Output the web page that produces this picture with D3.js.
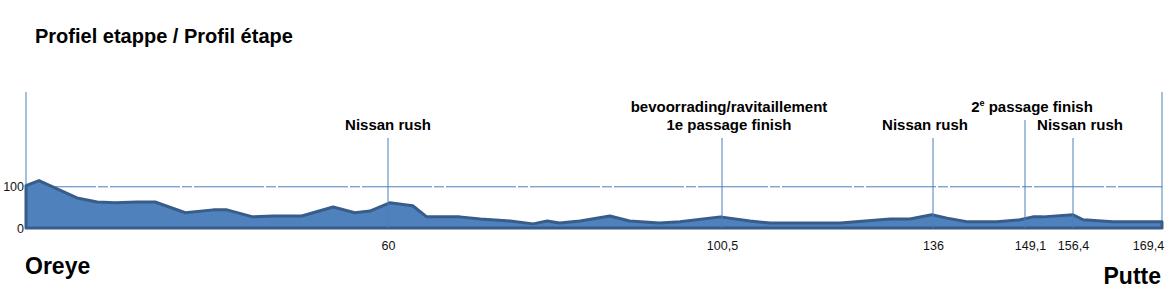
<!DOCTYPE html>
<html>
<head>
<meta charset="utf-8">
<script src="https://cdn.jsdelivr.net/npm/d3@7"></script>
<style>
  body { margin: 0; background: #fff; }
  svg { font-family: "Liberation Sans", Arial, sans-serif; }
</style>
</head>
<body>
<div id="main"></div>
<script>
// profile: km and altitude (m)
const profileKm = [0, 2.15, 8.45, 11.8, 14.75, 18.4, 21.4, 26.4, 31.0, 33.3, 37.6, 40.9, 45.7, 50.9, 54.5, 57.0,
    60.2, 63.0, 64.7, 68.7, 71.2, 74.8, 77.6, 79.3, 80.8, 83.3, 86.9, 89.3, 92.9, 95.4, 100.3, 105.2, 108.6,
    120.4, 128.8, 132.1, 135.8, 138.0, 140.8, 145.1, 148.4, 150.3, 151.8, 156.4, 157.9, 162.2, 169.4]
const profileAlt = [103, 115, 73, 63, 61, 63, 63, 37, 44, 44, 27, 29, 29, 51, 37, 41,
    61, 54, 27, 27, 22, 17, 10, 17, 12, 17, 29, 17, 12, 15, 27, 17, 12,
    12, 22, 22, 32, 24, 15, 15, 20, 27, 27, 32, 20, 15, 15]

const kmTicks = [60, 100.5, 136, 149.1, 156.4, 169.4]
const altTicks = [0, 100]

const annotKm = [60, 100.5, 136, 149.1, 156.4]
const annotText = [
    ["Nissan rush"],
    ["bevoorrading/ravitaillement", "1e passage finish"],
    ["Nissan rush"],
    ["2|e| passage finish"],
    ["Nissan rush"]
]

const title = "Profiel etappe / Profil étape"
const startTown = "Oreye"
const finishTown = "Putte"

const ctx = {
    w: 1174,
    h: 302,
    line: "#4a7ebb",
    fill: "#4f81bd",
    edge: "#385d8a"
}

function createViz() {
    let svg = d3.select("#main").append("svg")
        .attr("width", ctx.w)
        .attr("height", ctx.h)

    // distance scale of the original is not linear, each marked km is pinned
    let x = d3.scaleLinear()
        .domain([0, 60, 100.5, 136, 149.1, 156.4, 169.4])
        .range([26, 388, 722, 933, 1025, 1073, 1162])
    let y = d3.scaleLinear().domain([0, 330]).range([228, 92])

    let data = profileKm.map((k, i) => ({ km: k, alt: profileAlt[i] }))

    svg.append("text")
        .attr("x", 35).attr("y", 43)
        .attr("font-size", 20).attr("font-weight", "bold")
        .text(title)

    // reference line at 100 m
    svg.append("line")
        .attr("x1", x(0)).attr("x2", x(169.4))
        .attr("y1", y(100)).attr("y2", y(100))
        .attr("stroke", ctx.line)
        .attr("stroke-dasharray", "70,2,10,2")

    // side lines
    svg.selectAll(".side")
        .data([0, 169.4])
        .join("line")
        .attr("x1", d => x(d)).attr("x2", d => x(d))
        .attr("y1", y(330)).attr("y2", y(0))
        .attr("stroke", ctx.line)

    let area = d3.area()
        .x(d => x(d.km))
        .y0(y(0))
        .y1(d => y(d.alt))
    svg.append("path")
        .datum(data)
        .attr("d", area)
        .attr("fill", ctx.fill)
        .attr("stroke", ctx.edge)
        .attr("stroke-width", 3)
        .attr("stroke-linejoin", "round")

    // annotations
    const raised = [false, false, false, true, false]
    const nudge = [0, 7, -8, 7, 7]
    annotKm.forEach((k, i) => {
        let base = raised[i] ? 112 : 130
        let lines = annotText[i]
        let g = svg.append("g")
        svg.append("line")
            .attr("x1", x(k)).attr("x2", x(k))
            .attr("y1", base + 8).attr("y2", y(0))
            .attr("stroke", ctx.line)
        lines.forEach((t, j) => {
            let txt = g.append("text")
                .attr("x", x(k) + nudge[i])
                .attr("y", base - (lines.length - 1 - j) * 18)
                .attr("text-anchor", "middle")
                .attr("font-size", 15).attr("font-weight", "bold")
            let parts = t.split("|")
            if (parts.length === 3) {
                txt.append("tspan").text(parts[0])
                txt.append("tspan").attr("font-size", 9).attr("dy", -6).text(parts[1])
                txt.append("tspan").attr("dy", 6).text(parts[2])
            } else {
                txt.text(t)
            }
        })
    })

    // axes
    let fmt = d3.formatLocale({ decimal: ",", thousands: ".", grouping: [3], currency: ["", "€"] }).format(",")
    let xAxis = svg.append("g")
        .attr("transform", `translate(0,${y(0) + 10})`)
        .call(d3.axisBottom(x).tickValues(kmTicks).tickSize(0).tickFormat(fmt))
    xAxis.select(".domain").remove()
    xAxis.selectAll("text")
        .attr("font-family", "Liberation Sans, Arial, sans-serif")
        .attr("font-size", 12.5).attr("fill", "#111")
        .attr("dx", (d, i) => d === 149.1 ? 5 : d === 169.4 ? -14 : 0)

    let yAxis = svg.append("g")
        .attr("transform", "translate(25,0)")
        .call(d3.axisLeft(y).tickValues(altTicks).tickSize(0).tickPadding(1))
    yAxis.select(".domain").remove()
    yAxis.selectAll("text")
        .attr("font-family", "Liberation Sans, Arial, sans-serif")
        .attr("font-size", 12.5).attr("fill", "#111")

    svg.append("text")
        .attr("x", 25).attr("y", 274)
        .attr("font-size", 23).attr("font-weight", "bold")
        .text(startTown)
    svg.append("text")
        .attr("x", 1161).attr("y", 284)
        .attr("text-anchor", "end")
        .attr("font-size", 23).attr("font-weight", "bold")
        .text(finishTown)
}

createViz()
</script>
</body>
</html>
